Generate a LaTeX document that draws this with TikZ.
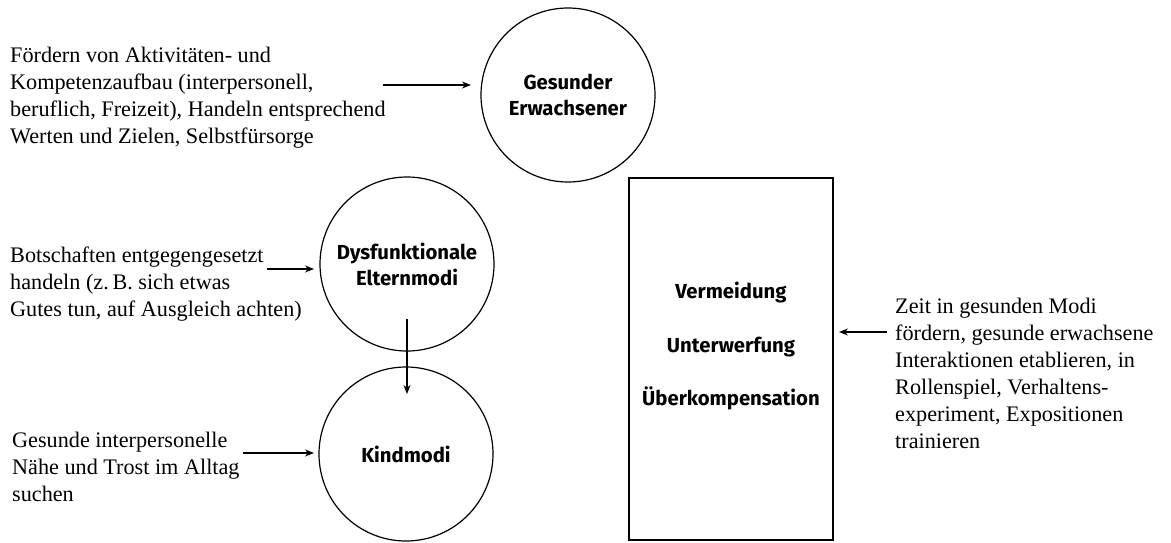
\documentclass[tikz,border=0pt]{standalone}
\usepackage{fontspec}
\setmainfont{Liberation Serif}
\newfontfamily\headfont{Fira Sans}
\usetikzlibrary{arrows.meta}
\begin{document}
\begin{tikzpicture}[x=1pt,y=-1pt,
  mode/.style={circle,draw,line width=1.2pt,minimum size=174pt,inner sep=0pt,align=center,
    font=\headfont\bfseries\fontsize{20.3}{26}\selectfont},
  lbl/.style={align=left,inner sep=0pt,anchor=west,font=\fontsize{22.2}{27}\selectfont},
  arr/.style={-{Stealth[length=9pt,width=7pt]},line width=1.1pt}]
\useasboundingbox (0,0) rectangle (1171,542);

% circles
\node[mode] (ge) at (568,95) {Gesunder\\Erwachsener};
\node[mode] (de) at (407,264) {Dysfunktionale\\Elternmodi};
\node[mode] (km) at (406,454) {Kindmodi};

% rectangle
\node[draw,line width=1.3pt,minimum width=204pt,minimum height=362pt,inner sep=0pt] (box) at (731,359) {};
\node[align=center,inner sep=0pt,font=\headfont\bfseries\fontsize{20.3}{53.5}\selectfont] (boxtxt) at (731,346.5)
  {Vermeidung\\Unterwerfung\\Überkompensation};

% labels
\node[lbl] (t1) at (10,97.5) {Fördern von Aktivitäten- und\\Kompetenzaufbau (interpersonell,\\beruflich, Freizeit), Handeln entsprechend\\Werten und Zielen, Selbstfürsorge};
\node[lbl] (t2) at (10,284.5) {Botschaften entgegengesetzt\\handeln (z.\,B. sich etwas\\Gutes tun, auf Ausgleich achten)};
\node[lbl] (t3) at (12,466.5) {Gesunde interpersonelle\\Nähe und Trost im Alltag\\suchen};
\node[lbl] (t4) at (895,373.5) {Zeit in gesunden Modi\\fördern, gesunde erwachsene\\Interaktionen etablieren, in\\Rollenspiel, Verhaltens-\\experiment, Expositionen\\trainieren};

% arrow endpoints
\coordinate (a1s) at (383,85);
\coordinate (a1e) at (471,85);
\coordinate (a2s) at (267,269);
\coordinate (a2e) at (314,269);
\coordinate (a3s) at (243,453);
\coordinate (a3e) at (314,453);
\coordinate (a4s) at (887,332);
\coordinate (a4e) at (839,332);
\coordinate (a5s) at (407,319);
\coordinate (a5e) at (407,394);

\draw[arr] (a1s) -- (a1e);
\draw[arr] (a2s) -- (a2e);
\draw[arr] (a3s) -- (a3e);
\draw[arr] (a4s) -- (a4e);
\draw[arr] (a5s) -- (a5e);
\end{tikzpicture}
\end{document}
